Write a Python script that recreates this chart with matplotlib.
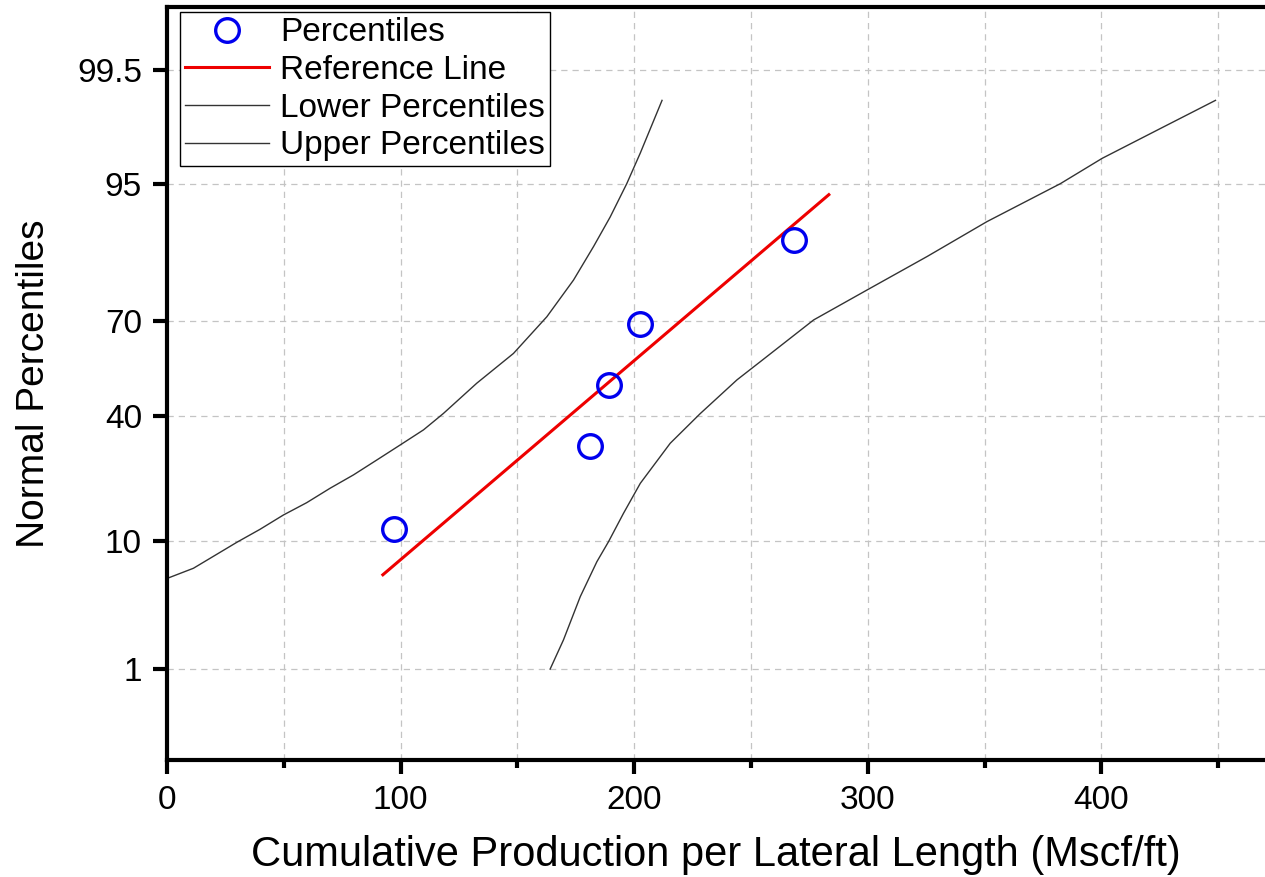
from statistics import NormalDist

import matplotlib
matplotlib.use("Agg")
import matplotlib.pyplot as plt

# production per lateral length (Mscf/ft) and their plotting positions (%)
prod = [97.1, 180.9, 189.0, 202.6, 268.6]
pct = [11.9, 30.95, 50.0, 69.05, 88.1]

# fitted reference line, two end points
ref_x = [92.4, 283.3]
ref_pct = [6.0, 94.0]

# confidence band, left curve
lower_x = [0.0, 11.3, 29.9, 39.8, 49.8, 59.8, 69.8, 79.8, 89.8, 99.8, 109.8,
           118.3, 132.6, 148.3, 162.6, 174.0, 182.6, 189.7, 196.8, 202.6,
           211.9]
lower_pct = [5.65, 6.66, 9.87, 11.84, 14.32, 16.73, 19.85, 23.03, 26.9, 31.1,
             35.6, 40.7, 50.5, 60.1, 71.1, 80.4, 87.1, 91.5, 95.0, 97.1, 99.0]

# confidence band, right curve
upper_x = [164.0, 169.7, 176.9, 184.0, 189.0, 195.4, 202.6, 215.4, 228.3,
           244.0, 254.0, 276.8, 299.7, 325.4, 351.0, 382.4, 400.3, 425.3,
           448.8]
upper_pct = [1.0, 1.84, 4.15, 7.38, 9.96, 14.64, 21.0, 31.6, 40.7, 51.6,
             57.5, 70.2, 78.1, 85.3, 90.9, 95.0, 96.8, 98.2, 99.0]

yticks = [1, 10, 40, 70, 95, 99.5]
ytick_labels = ["1", "10", "40", "70", "95", "99.5"]

probit = NormalDist().inv_cdf


def to_z(values):
    return [probit(v / 100.0) for v in values]


plt.rcParams["font.family"] = ["Liberation Sans", "DejaVu Sans"]

fig = plt.figure(figsize=(12.65, 8.77), dpi=100)
ax = fig.add_axes([167 / 1265, 117 / 877, 1 - 167 / 1265, 753 / 877])

ax.plot(prod, to_z(pct), linestyle="none", marker="o", markersize=17,
        markerfacecolor="none", markeredgecolor="#0000ee",
        markeredgewidth=2.4, label="Percentiles", zorder=4)
ax.plot(ref_x, to_z(ref_pct), color="#ee0000", linewidth=2.2,
        label="Reference Line", zorder=3)
ax.plot(lower_x, to_z(lower_pct), color="#333333", linewidth=1.0,
        label="Lower Percentiles", zorder=2)
ax.plot(upper_x, to_z(upper_pct), color="#333333", linewidth=1.0,
        label="Upper Percentiles", zorder=2)

ax.set_xlim(0, 470)
ax.set_ylim(probit(0.00107), probit(0.9990))

ax.set_xticks([0, 100, 200, 300, 400])
ax.set_xticks([50, 150, 250, 350, 450], minor=True)
ax.set_yticks(to_z(yticks))
ax.set_yticklabels(ytick_labels)

ax.set_axisbelow(True)
grid_style = dict(color="#c4c4c4", linestyle=(0, (5, 4)), linewidth=0.9)
ax.grid(axis="x", which="both", **grid_style)
ax.grid(axis="y", which="major", **grid_style)

for side in ["left", "bottom", "top"]:
    ax.spines[side].set_linewidth(3)
ax.spines["right"].set_visible(False)

ax.tick_params(axis="both", which="major", direction="out", length=10,
               width=3, labelsize=24, pad=8)
ax.tick_params(axis="x", which="minor", direction="out", length=6, width=3)
ax.tick_params(axis="y", which="minor", left=False)

ax.set_xlabel("Cumulative Production per Lateral Length (Mscf/ft)",
              fontsize=30, labelpad=14)
ax.set_ylabel("Normal Percentiles", fontsize=28, labelpad=18)

leg = ax.legend(loc="upper left", bbox_to_anchor=(0.012, 0.993),
                borderaxespad=0, fontsize=24, frameon=True, fancybox=False,
                edgecolor="black", framealpha=1, handlelength=2.5,
                handletextpad=0.35, labelspacing=0.2, borderpad=0.15)
leg.get_frame().set_linewidth(1.0)

fig.savefig("out.png", dpi=100)
